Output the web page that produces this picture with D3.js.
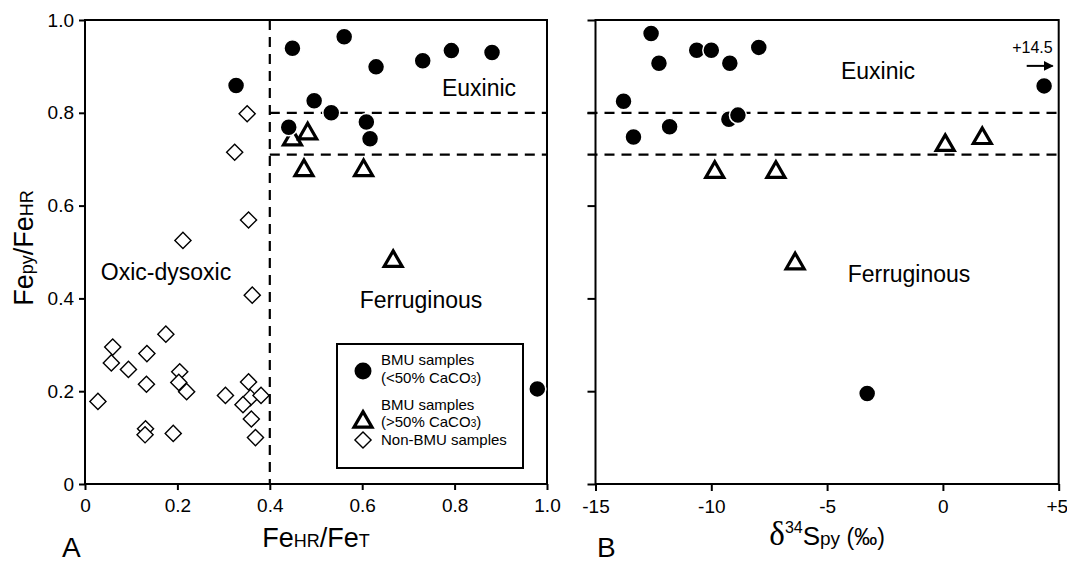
<!DOCTYPE html>
<html>
<head>
<meta charset="utf-8">
<script src="https://cdn.jsdelivr.net/npm/d3@7"></script>
<style>
  body { margin: 0; background: white; }
  text { font-family: "Liberation Sans", Arial, sans-serif; fill: #000; }
</style>
</head>
<body>
<div id="plot"></div>
<script>
// panel A: FeHR/FeT vs Fepy/FeHR
const circA_x = [0.449, 0.561, 0.630, 0.731, 0.793, 0.881, 0.327, 0.496, 0.533, 0.441, 0.609, 0.617, 0.979];
const circA_y = [0.939, 0.964, 0.899, 0.912, 0.934, 0.930, 0.859, 0.826, 0.800, 0.769, 0.780, 0.744, 0.205];
const triA_x = [0.449, 0.482, 0.474, 0.603, 0.667];
const triA_y = [0.742, 0.755, 0.676, 0.676, 0.480];
const diaA_x = [0.351, 0.324, 0.354, 0.212, 0.362, 0.175, 0.060, 0.057, 0.094, 0.134, 0.133, 0.205, 0.203,
                0.220, 0.028, 0.131, 0.130, 0.191, 0.304, 0.354, 0.358, 0.342, 0.381, 0.360, 0.369];
const diaA_y = [0.798, 0.715, 0.569, 0.525, 0.407, 0.323, 0.295, 0.261, 0.247, 0.281, 0.215, 0.242, 0.219,
                0.199, 0.178, 0.119, 0.106, 0.109, 0.191, 0.220, 0.186, 0.171, 0.191, 0.140, 0.100];

// panel B: d34S pyrite vs Fepy/FeHR
const circB_x = [-12.60, -12.26, -10.63, -10.0, -9.20, -7.95, -13.79, -13.36, -11.80, -9.24, -8.85, 4.37, -3.27];
const circB_y = [0.971, 0.907, 0.935, 0.935, 0.907, 0.941, 0.825, 0.748, 0.770, 0.786, 0.795, 0.858, 0.195];
const triB_x = [0.10, 1.70, -9.85, -7.21, -6.38];
const triB_y = [0.730, 0.745, 0.672, 0.672, 0.475];

const ticksA = [0, 0.2, 0.4, 0.6, 0.8, 1.0];
const tickLabelsA = ["0", "0.2", "0.4", "0.6", "0.8", "1.0"];
const ticksB = [-15, -10, -5, 0, 5];
const tickLabelsB = ["-15", "-10", "-5", "0", "+5"];
const ticksY = [0, 0.2, 0.4, 0.6, 0.8, 1.0];
const tickLabelsY = ["0", "0.2", "0.4", "0.6", "0.8", "1.0"];

const euxinicLine = 0.8;
const ferrLine = 0.71;
const oxicLine = 0.4;
const offscale = "+14.5";

const w = 1067;
const h = 564;

const svg = d3.select("div#plot")
      .append("svg")
      .attr("width", w)
      .attr("height", h);

const y = d3.scaleLinear().domain([0, 1]).range([484, 20]);
const xA = d3.scaleLinear().domain([0, 1]).range([85, 547]);
const xB = d3.scaleLinear().domain([-15, 5]).range([595.5, 1058.7]);

// axes
const axA = svg.append("g")
      .attr("transform", `translate(0, ${y(0)})`)
      .call(d3.axisBottom(xA).tickValues(ticksA)
        .tickFormat((d, i) => tickLabelsA[i]).tickSize(6).tickSizeOuter(0).tickPadding(9));
const ayA = svg.append("g")
      .attr("transform", `translate(${xA(0)}, 0)`)
      .call(d3.axisLeft(y).tickValues(ticksY)
        .tickFormat((d, i) => tickLabelsY[i]).tickSize(6).tickSizeOuter(0).tickPadding(5));
const axB = svg.append("g")
      .attr("transform", `translate(0, ${y(0)})`)
      .call(d3.axisBottom(xB).tickValues(ticksB)
        .tickFormat((d, i) => tickLabelsB[i]).tickSize(7).tickSizeOuter(0).tickPadding(9));
const ayB = svg.append("g")
      .attr("transform", `translate(${xB(-15)}, 0)`)
      .call(d3.axisLeft(y).tickValues(ticksY).tickFormat("").tickSize(8).tickSizeOuter(0));

[axA, ayA, axB, ayB].forEach(g => {
  g.select(".domain").remove();
  g.selectAll("line").attr("stroke", "#000").attr("stroke-width", 2);
  g.selectAll("text").attr("font-size", 19).attr("font-family", "Liberation Sans, Arial, sans-serif");
});
// keep the last label inside the page
axB.selectAll("text").filter((d, i) => i === ticksB.length - 1).attr("text-anchor", "end").attr("dx", 9);

// frames
svg.append("rect")
      .attr("x", xA(0)).attr("y", y(1))
      .attr("width", xA(1) - xA(0)).attr("height", y(0) - y(1))
      .attr("fill", "none").attr("stroke", "#000").attr("stroke-width", 2);
svg.append("rect")
      .attr("x", xB(-15)).attr("y", y(1))
      .attr("width", xB(5) - xB(-15)).attr("height", y(0) - y(1))
      .attr("fill", "none").attr("stroke", "#000").attr("stroke-width", 2);

// dashed boundaries
const dash = "10,7";
svg.append("line")
      .attr("x1", xA(oxicLine)).attr("x2", xA(oxicLine))
      .attr("y1", y(1)).attr("y2", y(0))
      .attr("stroke", "#000").attr("stroke-width", 2.2).attr("stroke-dasharray", dash);
[euxinicLine, ferrLine].forEach(v => {
  svg.append("line")
      .attr("x1", xA(oxicLine)).attr("x2", xA(1))
      .attr("y1", y(v)).attr("y2", y(v))
      .attr("stroke", "#000").attr("stroke-width", 2.2).attr("stroke-dasharray", dash);
  svg.append("line")
      .attr("x1", xB(-15) - 8).attr("x2", xB(5))
      .attr("y1", y(v)).attr("y2", y(v))
      .attr("stroke", "#000").attr("stroke-width", 2.2).attr("stroke-dasharray", dash);
});

// markers
const circleSym = d3.symbol(d3.symbolCircle, 227)();
const triSym = d3.symbol(d3.symbolTriangle, 140)();
const diaSym = d3.symbol(d3.symbolSquare, 130)();

function drawDiamonds(xs, ys, xScale) {
  svg.append("g").selectAll("path")
    .data(xs.map((d, i) => [d, ys[i]]))
    .enter().append("path")
    .attr("d", diaSym)
    .attr("transform", d => `translate(${xScale(d[0])}, ${y(d[1])}) rotate(45)`)
    .attr("fill", "white").attr("stroke", "#000").attr("stroke-width", 1.4);
}
function drawTriangles(xs, ys, xScale) {
  svg.append("g").selectAll("path")
    .data(xs.map((d, i) => [d, ys[i]]))
    .enter().append("path")
    .attr("d", triSym)
    .attr("transform", d => `translate(${xScale(d[0])}, ${y(d[1])})`)
    .attr("fill", "white").attr("stroke", "#000").attr("stroke-width", 3.2)
    .attr("stroke-linejoin", "miter");
}
function drawCircles(xs, ys, xScale) {
  svg.append("g").selectAll("path")
    .data(xs.map((d, i) => [d, ys[i]]))
    .enter().append("path")
    .attr("d", circleSym)
    .attr("transform", d => `translate(${xScale(d[0])}, ${y(d[1])})`)
    .attr("fill", "#000").attr("stroke", "white").attr("stroke-width", 1.5);
}

drawDiamonds(diaA_x, diaA_y, xA);
drawTriangles(triA_x, triA_y, xA);
drawCircles(circA_x, circA_y, xA);
drawTriangles(triB_x, triB_y, xB);
drawCircles(circB_x, circB_y, xB);

// off-scale note for the sample at +14.5
svg.append("defs").append("marker")
      .attr("id", "arrow")
      .attr("viewBox", "0 0 10 10")
      .attr("refX", 9).attr("refY", 5)
      .attr("markerWidth", 10).attr("markerHeight", 10)
      .attr("markerUnits", "userSpaceOnUse")
      .attr("orient", "auto")
      .append("path").attr("d", "M0,0 L10,5 L0,10 Z").attr("fill", "#000");
const offY = y(circB_y[11]);
svg.append("line")
      .attr("x1", xB(5) - 32).attr("x2", xB(5) - 6)
      .attr("y1", offY - 20).attr("y2", offY - 20)
      .attr("stroke", "#000").attr("stroke-width", 2)
      .attr("marker-end", "url(#arrow)");
svg.append("text")
      .attr("x", xB(5) - 6).attr("y", offY - 33)
      .attr("text-anchor", "end").attr("font-size", 16)
      .text(offscale);

// region labels
function label(x, yy, t, size) {
  svg.append("text").attr("x", x).attr("y", yy)
    .attr("text-anchor", "middle").attr("font-size", size).text(t);
}
label(479, 96, "Euxinic", 23);
label(166, 280, "Oxic-dysoxic", 23);
label(421, 308, "Ferruginous", 23);
label(878, 79, "Euxinic", 23);
label(909, 282, "Ferruginous", 23);

// axis titles
const ylab = svg.append("text")
      .attr("transform", "translate(33, 248) rotate(-90)")
      .attr("text-anchor", "middle");
ylab.append("tspan").attr("font-size", 27).text("Fe");
ylab.append("tspan").attr("font-size", 18).text("py");
ylab.append("tspan").attr("font-size", 27).text("/Fe");
ylab.append("tspan").attr("font-size", 18).text("HR");

const xlabA = svg.append("text")
      .attr("x", (xA(0) + xA(1)) / 2).attr("y", 547)
      .attr("text-anchor", "middle");
xlabA.append("tspan").attr("font-size", 27).text("Fe");
xlabA.append("tspan").attr("font-size", 18).text("HR");
xlabA.append("tspan").attr("font-size", 27).text("/Fe");
xlabA.append("tspan").attr("font-size", 18).text("T");

const xlabB = svg.append("text")
      .attr("x", (xB(-15) + xB(5)) / 2).attr("y", 545)
      .attr("text-anchor", "middle");
xlabB.append("tspan").attr("font-size", 33)
      .style("font-family", "'Liberation Serif', 'DejaVu Serif', serif").text("δ");
xlabB.append("tspan").attr("font-size", 16).attr("dy", -12).text("34");
xlabB.append("tspan").attr("font-size", 26).attr("dy", 12).text("S");
xlabB.append("tspan").attr("font-size", 19).text("py");
xlabB.append("tspan").attr("font-size", 23).text(" (‰)");

svg.append("text").attr("x", 62).attr("y", 557).attr("font-size", 28).text("A");
svg.append("text").attr("x", 597).attr("y", 557).attr("font-size", 28).text("B");

// legend
const legendLines = [["BMU samples", "(<50% CaCO", "3", ")"], ["BMU samples", "(>50% CaCO", "3", ")"], ["Non-BMU samples"]];
const lg = svg.append("g").attr("transform", "translate(337, 344)");
lg.append("rect").attr("width", 186).attr("height", 124)
      .attr("fill", "white").attr("stroke", "#000").attr("stroke-width", 2);
lg.append("path").attr("d", circleSym).attr("transform", "translate(26, 27)").attr("fill", "#000");
lg.append("path").attr("d", triSym).attr("transform", "translate(26, 78)")
      .attr("fill", "white").attr("stroke", "#000").attr("stroke-width", 3.2);
lg.append("path").attr("d", diaSym).attr("transform", "translate(26, 96) rotate(45)")
      .attr("fill", "white").attr("stroke", "#000").attr("stroke-width", 1.4);
[[21, 39], [66, 83]].forEach((b, i) => {
  const l = legendLines[i];
  lg.append("text").attr("x", 44).attr("y", b[0]).attr("font-size", 15).text(l[0]);
  const t = lg.append("text").attr("x", 44).attr("y", b[1]).attr("font-size", 15);
  t.append("tspan").text(l[1]);
  t.append("tspan").attr("font-size", 10).text(l[2]);
  t.append("tspan").text(l[3]);
});
lg.append("text").attr("x", 44).attr("y", 101).attr("font-size", 15).text(legendLines[2][0]);
</script>
</body>
</html>
